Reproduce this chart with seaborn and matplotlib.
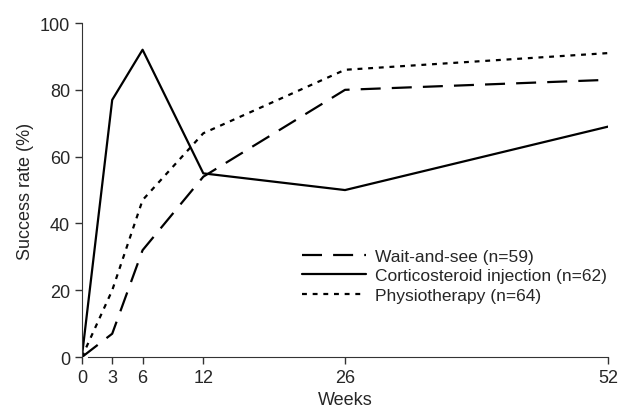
import matplotlib
matplotlib.use("Agg")
import matplotlib.pyplot as plt
import seaborn as sns
import pandas as pd

weeks = [0, 3, 6, 12, 26, 52]
wait_and_see = [0, 7, 32, 54, 80, 83]
corticosteroid = [0, 77, 92, 55, 50, 69]
physiotherapy = [0, 20, 47, 67, 86, 91]
labels = ["Wait-and-see (n=59)", "Corticosteroid injection (n=62)", "Physiotherapy (n=64)"]
y_ticks = [0, 20, 40, 60, 80, 100]

df = pd.DataFrame({
    "Weeks": weeks * 3,
    "Success": wait_and_see + corticosteroid + physiotherapy,
    "Group": [labels[0]] * len(weeks) + [labels[1]] * len(weeks) + [labels[2]] * len(weeks),
})

sns.set_style("ticks")
plt.rcParams["font.family"] = ["Liberation Sans", "DejaVu Sans"]

fig = plt.figure(figsize=(6.2, 4.14), dpi=100)
ax = fig.add_axes([0.132, 0.135, 0.849, 0.807])

sns.lineplot(data=df, x="Weeks", y="Success", style="Group", style_order=labels,
             color="black", linewidth=1.6,
             dashes={labels[0]: (9, 5), labels[1]: "", labels[2]: (2.2, 2.6)},
             ax=ax, legend=True)

ax.set_xlim(0, 52)
ax.set_ylim(0, 100)
ax.set_xticks(weeks)
ax.set_yticks(y_ticks)
ax.tick_params(labelsize=13, length=5, width=1, color="#333333")
ax.set_xlabel("Weeks", fontsize=13)
ax.set_ylabel("Success rate (%)", fontsize=13)
for s in ["top", "right"]:
    ax.spines[s].set_visible(False)
for s in ["left", "bottom"]:
    ax.spines[s].set_color("#333333")
ax.spines["bottom"].set_bounds(0.6, 52)

leg = ax.legend(loc="upper left", bbox_to_anchor=(0.405, 0.345), frameon=False,
                fontsize=12.5, handlelength=3.7, handletextpad=0.5,
                labelspacing=0.25, borderaxespad=0)
for line in leg.get_lines():
    line.set_linewidth(1.6)

fig.savefig("out.png", dpi=100)
